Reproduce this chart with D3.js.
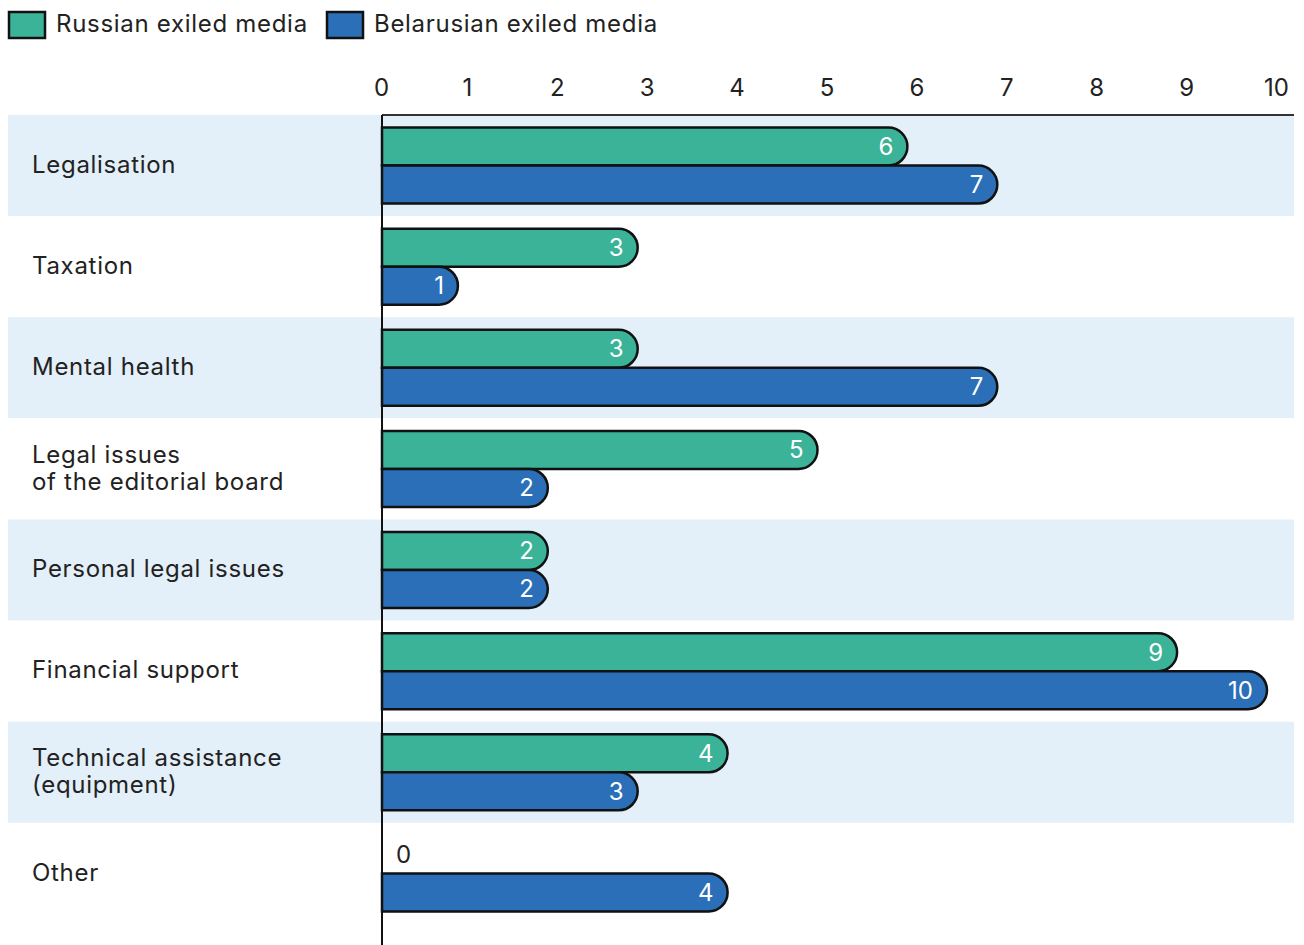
<!DOCTYPE html>
<html><head><meta charset="utf-8">
<script src="https://cdn.jsdelivr.net/npm/d3@7"></script>
<style>body{margin:0;background:#fff}svg{display:block;font-family:Inter,"Noto Sans",sans-serif}</style>
</head><body><svg id="c" width="1304" height="945"></svg>
<script>
const categories = [["Legalisation"],["Taxation"],["Mental health"],["Legal issues","of the editorial board"],["Personal legal issues"],["Financial support"],["Technical assistance","(equipment)"],["Other"]];
const russian = [6,3,3,5,2,9,4,0];
const belarusian = [7,1,7,2,2,10,3,4];
const seriesNames = ["Russian exiled media","Belarusian exiled media"];
const ticks = [0,1,2,3,4,5,6,7,8,9,10];

const colors = ["#3bb398","#2a6fb7"];
const ink = "#111";
const ls = "0.7px";
const svg = d3.select("#c");
const x = d3.scaleLinear().domain([0,10]).range([377,1276]);
const y = d3.scaleBand().domain(d3.range(categories.length)).range([115,924]).paddingInner(0).paddingOuter(0);
const axisX = 382;

// bands
svg.selectAll("rect.band").data(categories).join("rect")
  .attr("x",8).attr("width",1286).attr("y",(d,i)=>y(i)).attr("height",y.bandwidth())
  .attr("fill",(d,i)=>i%2===0?"#e3eff9":"#fff");

// category labels
const lab = svg.selectAll("text.cat").data(categories).join("text")
  .attr("x",32).attr("font-size",24).attr("fill","#222").attr("letter-spacing",ls);
lab.each(function(d,i){
  const cy = y(i)+y.bandwidth()/2;
  const lh = 27;
  d.forEach((t,k)=>{
    d3.select(this).append("tspan").attr("x",32)
      .attr("y", cy + (k-(d.length-1)/2)*lh).attr("dy","0.3em").text(t);
  });
});

// axis top
const ax = d3.axisTop(x).tickValues(ticks).tickSize(0).tickPadding(0).tickFormat(d3.format("d"));
const g = svg.append("g").attr("transform","translate(0,88)").call(ax);
g.select(".domain").remove();
g.selectAll("text").attr("font-size",24).attr("fill","#222").attr("dy","0.35em").attr("font-family","Inter,'Noto Sans',sans-serif")
  .attr("dx",d=>d===0?4:0);
svg.append("line").attr("x1",axisX).attr("x2",1294).attr("y1",115).attr("y2",115).attr("stroke","#333").attr("stroke-width",2);
svg.append("line").attr("x1",axisX).attr("x2",axisX).attr("y1",115).attr("y2",945).attr("stroke",ink).attr("stroke-width",2);

const bh = 38, r = bh/2;
function barPath(v, top){
  const x0 = axisX, xe = x(v)-9;
  return `M${x0},${top}H${xe-r}A${r},${r} 0 0 1 ${xe-r},${top+bh}H${x0}Z`;
}
const sets = [russian, belarusian];
sets.forEach((vals,s)=>{
  const gg = svg.append("g");
  vals.forEach((v,i)=>{
    const top = y(i)+y.bandwidth()/2 - bh + s*bh;
    if(v>0){
      gg.append("path").attr("d",barPath(v,top)).attr("fill",colors[s]).attr("stroke",ink).attr("stroke-width",2.5);
      gg.append("text").attr("x",x(v)-23).attr("y",top+bh/2).attr("dy","0.35em")
        .attr("text-anchor","end").attr("font-size",24).attr("fill","#fff").text(v);
    } else {
      gg.append("text").attr("x",axisX+14).attr("y",top+bh/2).attr("dy","0.35em")
        .attr("font-size",24).attr("fill","#222").text(v);
    }
  });
});

// legend
const leg = [{x:8,t:seriesNames[0]},{x:326,t:seriesNames[1]}];
leg.forEach((l,i)=>{
  svg.append("rect").attr("x",l.x+1).attr("y",12).attr("width",36).attr("height",26)
    .attr("fill",colors[i]).attr("stroke",ink).attr("stroke-width",2.5);
  svg.append("text").attr("x",l.x+48).attr("y",25).attr("dy","0.3em").attr("font-size",24).attr("fill","#222")
    .attr("letter-spacing",ls).text(l.t);
});
</script></body></html>
